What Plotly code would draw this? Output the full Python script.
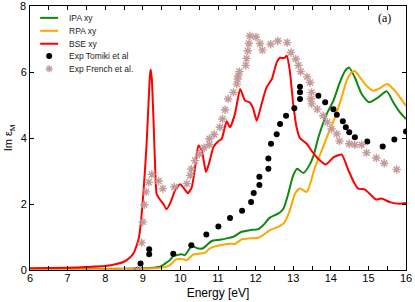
import plotly.graph_objects as go

# IPA xy (green)
ipa_e = [6.0, 7.0, 8.0, 8.5, 9.0, 9.2, 9.46, 9.6, 9.72, 9.81, 9.9, 10.03, 10.12, 10.3, 10.48, 10.6, 10.7, 10.83, 11.05,
         11.23, 11.41, 11.63, 11.85, 12.07, 12.2, 12.38, 12.6, 12.74, 12.87, 13.0, 13.11, 13.27, 13.45, 13.55, 13.67,
         13.89, 14.07, 14.24, 14.38, 14.49, 14.64, 14.82, 15.02, 15.26, 15.49, 15.66, 15.84, 16.0]
ipa_y = [0.02, 0.02, 0.03, 0.04, 0.05, 0.06, 0.1, 0.2, 0.3, 0.42, 0.45, 0.48, 0.45, 0.72, 0.65, 0.66, 0.75, 0.88, 0.92,
         0.96, 1.01, 1.16, 1.21, 1.24, 1.36, 1.59, 1.71, 1.86, 2.32, 2.87, 3.07, 2.94, 3.22, 3.5, 4.03,
         4.73, 5.14, 5.69, 6.04, 6.14, 5.84, 5.34, 5.09, 5.24, 5.42, 5.09, 4.78, 4.58]

# RPA xy (orange)
rpa_e = [6.0, 7.0, 8.0, 8.5, 9.0, 9.3, 9.55, 9.72, 9.9, 10.05, 10.17, 10.34, 10.52, 10.65, 10.79, 11.05, 11.32, 11.45,
         11.63, 11.85, 12.07, 12.2, 12.38, 12.6, 12.76, 12.91, 13.05, 13.18, 13.36, 13.58, 13.76, 13.93, 14.11, 14.29,
         14.42, 14.55, 14.64, 14.78, 14.95, 15.13, 15.31, 15.5, 15.66, 15.84, 16.0]
rpa_y = [0.01, 0.01, 0.02, 0.03, 0.04, 0.05, 0.08, 0.15, 0.33, 0.33, 0.3, 0.47, 0.5, 0.52, 0.66, 0.75, 0.8, 0.79,
         0.93, 0.96, 0.98, 1.06, 1.21, 1.31, 1.43, 1.81, 2.32, 2.47, 2.37, 3.12, 3.63, 4.13, 4.63, 5.24,
         5.74, 5.99, 6.04, 5.84, 5.59, 5.44, 5.52, 5.64, 5.49, 5.24, 4.98]

# BSE xy (red)
bse_e = [6.0, 7.0, 7.5, 8.0, 8.3, 8.5, 8.65, 8.75, 8.83, 8.9, 8.95, 9.0, 9.05, 9.1, 9.15, 9.19, 9.21, 9.24, 9.28,
         9.32, 9.37, 9.46, 9.55, 9.63, 9.74, 9.86, 9.99, 10.08, 10.2, 10.3, 10.39, 10.48, 10.57, 10.68, 10.77, 10.88,
         11.0, 11.1, 11.23, 11.32, 11.45, 11.59, 11.72, 11.85, 11.94, 12.03, 12.16, 12.29, 12.43, 12.56, 12.65,
         12.76, 12.83, 12.91, 13.0, 13.09, 13.18, 13.36, 13.5, 13.67, 13.87, 14.07, 14.29, 14.47, 14.62, 14.73,
         14.91, 15.2, 15.35, 15.57, 15.84, 16.0]
bse_y = [0.05, 0.07, 0.09, 0.12, 0.18, 0.25, 0.37, 0.5, 0.72, 1.0, 1.45, 2.1, 2.9, 3.8, 5.0, 5.9, 6.08, 5.8, 4.7,
         3.4, 2.3, 2.13, 2.0, 1.84, 2.06, 2.42, 2.6, 2.5, 2.33, 2.5, 3.1, 3.78, 3.63, 2.97, 3.27, 3.73,
         3.9, 3.98, 4.51, 4.33, 4.73, 5.49, 5.14, 5.08, 4.88, 4.53, 5.04, 5.54, 5.79, 6.29, 6.44,
         6.43, 6.5, 6.04, 5.04, 4.33, 4.0, 3.83, 3.6, 3.37, 3.2, 3.42, 3.5, 3.02, 2.65, 2.47,
         2.44, 2.14, 2.17, 2.06, 2.01, 2.03]

# Exp Tomiki et al (black dots)
tom_e = [8.85, 8.94, 9.17, 9.17, 9.81, 10.29, 10.69, 11.01, 11.32, 11.64, 11.88, 11.95, 12.1, 12.1, 12.34, 12.34,
         12.41, 12.56, 12.65, 12.81, 13.03, 13.18, 13.18, 13.18, 13.67, 13.85, 14.07, 14.16, 14.32, 14.4, 14.49,
         14.64, 14.97, 15.38, 15.69, 16.0]
tom_y = [0.0, 0.2, 0.63, 0.48, 0.49, 0.75, 1.08, 1.32, 1.58, 1.8, 2.06, 2.34, 2.58, 2.83, 3.07, 3.38,
         3.83, 4.12, 4.43, 4.68, 4.91, 5.19, 5.39, 5.56, 5.29, 5.09, 4.88, 4.71, 4.51, 4.33, 4.18,
         4.03, 3.9, 3.75, 3.96, 4.2]

# Exp French et al. (stars)
fr_e = [8.86, 8.97, 9.0, 9.04, 9.09, 9.16, 9.24, 9.42, 9.53, 9.84, 10.17, 10.26, 10.29, 10.39, 10.5, 10.63, 10.77,
        10.77, 10.9, 11.05, 11.12, 11.19, 11.27, 11.41, 11.5, 11.52, 11.54, 11.57, 11.74, 11.76, 11.79, 11.82,
        11.85, 12.01, 12.12, 12.18, 12.4, 12.59, 12.84, 12.94, 13.07, 13.14, 13.2, 13.37, 13.45, 13.49, 13.47,
        13.49, 13.64, 13.8, 13.91, 14.02, 14.16, 14.23, 14.49, 14.64, 14.82, 14.95, 15.21, 15.42, 15.75]
fr_y = [0.0, 0.83, 1.46, 1.98, 2.37, 2.66, 2.9, 2.7, 2.47, 2.52, 2.62, 2.87, 3.06, 3.32, 3.52, 3.71, 3.81,
        3.98, 4.11, 4.33, 4.58, 4.86, 5.19, 5.39, 5.64, 5.79, 5.89, 6.02, 6.21, 6.42, 6.65, 6.87,
        7.1, 7.07, 6.87, 6.67, 6.85, 6.95, 6.9, 6.6, 6.4, 6.21, 6.02, 5.86, 5.69, 5.39, 5.19,
        5.04, 4.88, 4.68, 4.48, 4.28, 4.13, 3.91, 3.83, 3.8, 3.8, 3.56, 3.4, 3.24, 3.05]

x_ticks = [6, 7, 8, 9, 10, 11, 12, 13, 14, 15, 16]
y_ticks = [0, 2, 4, 6, 8]
y_tick_text = ["0", "2", "4", "6", "8"]
legend_names = ["IPA xy", "RPA xy", "BSE xy", "Exp Tomiki et al", "Exp French et al."]

GREEN, ORANGE, RED, BLACK, ROSY = "#118811", "#ffa500", "#ff0000", "#000000", "#c49a9a"

fig = go.Figure()
fig.add_trace(go.Scatter(x=ipa_e, y=ipa_y, mode="lines", name=legend_names[0], showlegend=False,
                         line=dict(color=GREEN, width=2, shape="spline", smoothing=0.6)))
fig.add_trace(go.Scatter(x=rpa_e, y=rpa_y, mode="lines", name=legend_names[1], showlegend=False,
                         line=dict(color=ORANGE, width=2, shape="spline", smoothing=0.6)))
fig.add_trace(go.Scatter(x=bse_e, y=bse_y, mode="lines", name=legend_names[2], showlegend=False,
                         line=dict(color=RED, width=2, shape="spline", smoothing=0.5)))
fig.add_trace(go.Scatter(x=tom_e, y=tom_y, mode="markers", name=legend_names[3], showlegend=False,
                         marker=dict(color=BLACK, size=6, symbol="circle")))
fig.add_trace(go.Scatter(x=fr_e, y=fr_y, mode="markers", name=legend_names[4], showlegend=False,
                         marker=dict(color=ROSY, size=7, symbol="asterisk-open",
                                     line=dict(color=ROSY, width=1.4))))

# compact legend: keys as shapes in plot-domain units
key_rows = [0.955, 0.906, 0.857, 0.811, 0.762]
key_x0, key_x1, key_xm, text_x = 0.027, 0.075, 0.051, 0.098
for i, col in enumerate([GREEN, ORANGE, RED]):
    fig.add_shape(type="line", xref="x domain", yref="y domain", x0=key_x0, x1=key_x1,
                  y0=key_rows[i], y1=key_rows[i], line=dict(color=col, width=2))
fig.add_shape(type="circle", xref="x domain", yref="y domain", xsizemode="pixel", ysizemode="pixel",
              xanchor=key_xm, yanchor=key_rows[3], x0=-3, x1=3, y0=-3, y1=3,
              fillcolor=BLACK, line=dict(color=BLACK, width=0))
for dx, dy in [(3.5, 0), (0, 3.5), (2.5, 2.5), (2.5, -2.5)]:
    fig.add_shape(type="line", xref="x domain", yref="y domain", xsizemode="pixel", ysizemode="pixel",
                  xanchor=key_xm, yanchor=key_rows[4], x0=-dx, x1=dx, y0=-dy, y1=dy,
                  line=dict(color=ROSY, width=1.4))
for i, name in enumerate(legend_names):
    fig.add_annotation(x=text_x, y=key_rows[i], xref="x domain", yref="y domain", text=name, showarrow=False,
                       xanchor="left", yanchor="middle", font=dict(size=8.5, color="#222222"))

fig.add_annotation(x=0.944, y=0.955, xref="x domain", yref="y domain", text="(a)", showarrow=False,
                   xanchor="center", yanchor="middle",
                   font=dict(family="Liberation Serif", size=12, color="black"))

# top y tick label (plotly hides the label sitting on the plot's top edge)
fig.add_annotation(x=0, y=y_ticks[-1], xref="x domain", yref="y", text=y_tick_text[-1], showarrow=False,
                   xanchor="right", yanchor="middle", xshift=-2, font=dict(size=11, color="black"))

fig.update_layout(
    width=415, height=302,
    margin=dict(l=30, r=9, t=6, b=32, autoexpand=False),
    paper_bgcolor="white", plot_bgcolor="white",
    font=dict(family="Liberation Sans", size=11, color="black"),
    showlegend=False,
    xaxis=dict(range=[6, 16], tickvals=x_ticks, ticks="inside", ticklen=4, tickcolor="black",
               showline=True, linecolor="black", linewidth=1, mirror="ticks", showgrid=False,
               zeroline=False, automargin=False, ticklabelstandoff=-2, ticklabeloverflow="allow",
               title=dict(text="Energy [eV]", font=dict(size=12), standoff=5),
               minor=dict(dtick=0.5, ticks="inside", ticklen=4, tickcolor="black", showgrid=False)),
    yaxis=dict(range=[0, 8.01], tickvals=y_ticks, ticktext=y_tick_text[:-1] + [""], ticks="inside", ticklen=4,
               tickcolor="black", showline=True, linecolor="black", linewidth=1, mirror="ticks",
               showgrid=False, zeroline=False, automargin=False, ticklabeloverflow="allow",
               title=dict(text="Im ε<sub>M</sub>", font=dict(size=11), standoff=5)),
)

fig.write_html("out.html", config={"displayModeBar": False},
               post_script="document.body.style.margin='0';document.body.style.padding='0';")
